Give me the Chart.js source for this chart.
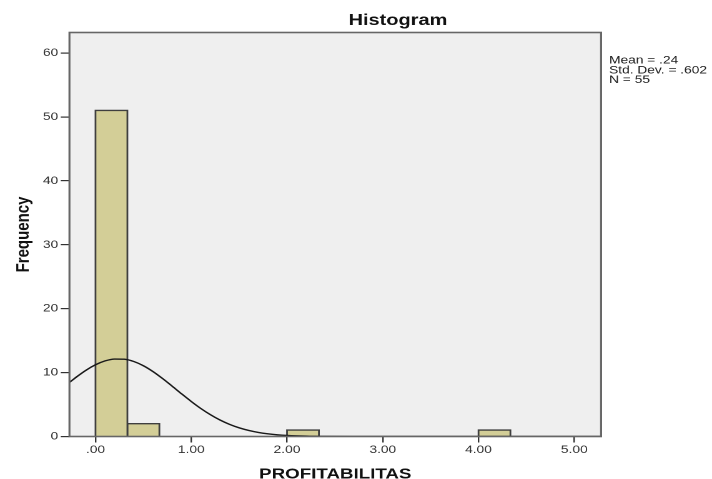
<!DOCTYPE html>
<html>
<head>
<meta charset="utf-8">
<script src="https://cdn.jsdelivr.net/npm/chart.js@4/dist/chart.umd.min.js"></script>
<style>
  html, body { margin: 0; padding: 0; background: #ffffff; overflow: hidden; }
  #wrap { width: 712px; height: 479px; overflow: hidden; }
  #c { display: block; transform: scaleX(1.24912); transform-origin: 0 0; }
</style>
</head>
<body>
<div id="wrap"><canvas id="c" width="570" height="479"></canvas></div>
<script>
// ---- data ----
const chartTitle = "Histogram";
const xAxisTitle = "PROFITABILITAS";
const yAxisTitle = "Frequency";
const statsLines = ["Mean = .24", "Std. Dev. = .602", "N = 55"];

const binStart = [0.000, 0.333, 2.000, 4.000];
const binEnd   = [0.333, 0.667, 2.333, 4.333];
const binCount = [51, 2, 1, 1];

// normal curve
const curveX = [-0.272, -0.2, -0.1, 0.0, 0.1, 0.2, 0.3, 0.4, 0.5, 0.6, 0.7, 0.8, 0.9, 1.0, 1.1, 1.2, 1.3, 1.4, 1.5, 1.6, 1.7, 1.8, 1.9, 2.0, 2.2, 2.4, 2.7, 3.5, 5.28];
const curveY = [8.46, 9.30, 10.36, 11.22, 11.83, 12.12, 12.09, 11.73, 11.07, 10.16, 9.07, 7.88, 6.66, 5.48, 4.38, 3.41, 2.58, 1.90, 1.36, 0.95, 0.64, 0.42, 0.27, 0.17, 0.06, 0.02, 0.0, 0.0, 0.0];

const xMin = -0.272, xMax = 5.28;
const yMin = 0, yMax = 63.2;
const xTickStep = 1, yTickStep = 10;

// ---- build datasets ----
const FONT = "'Liberation Sans', Arial, Helvetica, sans-serif";
const barSets = binCount.map((c, i) => ({
  type: 'line',
  data: [{x: binStart[i], y: 0}, {x: binStart[i], y: c}, {x: binEnd[i], y: c}, {x: binEnd[i], y: 0}],
  fill: 'origin',
  backgroundColor: '#d3ce97',
  borderColor: '#3f3f3f',
  borderWidth: 1.4,
  pointRadius: 0,
  tension: 0,
  order: 1
}));
const curveSet = {
  type: 'line',
  data: curveX.map((x, i) => ({x: x, y: curveY[i]})),
  fill: false,
  borderColor: '#1a1a1a',
  borderWidth: 1.4,
  pointRadius: 0,
  cubicInterpolationMode: 'monotone',
  order: -1
};

const framePlugin = {
  id: 'frame',
  beforeDraw(chart) {
    const {ctx, chartArea: a} = chart;
    ctx.save();
    ctx.fillStyle = '#ffffff';
    ctx.fillRect(0, 0, chart.width, chart.height);
    ctx.fillStyle = '#efefef';
    ctx.fillRect(a.left, a.top, a.right - a.left, a.bottom - a.top);
    ctx.restore();
  },
  afterDatasetsDraw(chart) {
    const {ctx, chartArea: a} = chart;
    ctx.save();
    ctx.strokeStyle = '#666666';
    ctx.lineWidth = 1.6;
    ctx.strokeRect(a.left, a.top, a.right - a.left, a.bottom - a.top);
    ctx.restore();
  },
  afterDraw(chart) {
    const {ctx} = chart;
    ctx.save();
    ctx.fillStyle = '#111';
    ctx.font = "bold 16px " + FONT;
    ctx.textAlign = 'center';
    ctx.textBaseline = 'alphabetic';
    ctx.fillText(chartTitle, 318.6, 25);
    ctx.font = "11px " + FONT;
    ctx.textAlign = 'left';
    ctx.textBaseline = 'middle';
    ctx.fillStyle = '#222';
    statsLines.forEach((t, i) => ctx.fillText(t, 487.6, 60.5 + i * 9.8));
    ctx.restore();
  }
};

new Chart(document.getElementById('c'), {
  type: 'line',
  data: { datasets: [curveSet, ...barSets] },
  plugins: [framePlugin],
  options: {
    responsive: false,
    devicePixelRatio: 2,
    animation: false,
    layout: { padding: { left: 0, right: 88.8, top: 32.5, bottom: 0 } },
    plugins: { legend: { display: false }, tooltip: { enabled: false }, title: { display: false } },
    scales: {
      x: {
        type: 'linear',
        min: xMin, max: xMax,
        afterFit(s) { s.height = 42.5; },
        border: { display: false },
        grid: { drawOnChartArea: false, drawTicks: true, tickLength: 6, tickColor: '#333', lineWidth: 1.2 },
        ticks: {
          stepSize: xTickStep, includeBounds: false, autoSkip: false, maxRotation: 0,
          padding: 1, color: '#333', font: { family: FONT, size: 11 },
          callback: v => (v === 0 ? '.00' : Number(v).toFixed(2))
        },
        title: { display: true, text: xAxisTitle, color: '#111', font: { family: FONT, size: 15, weight: 'bold', lineHeight: 0.6 }, padding: { top: 0, bottom: 0 } }
      },
      y: {
        min: yMin, max: yMax,
        afterFit(s) { s.width = 55.6; },
        border: { display: false },
        grid: { drawOnChartArea: false, drawTicks: true, tickLength: 7, tickColor: '#333', lineWidth: 1.2 },
        ticks: { stepSize: yTickStep, includeBounds: false, padding: 2, color: '#333', font: { family: FONT, size: 11 } },
        title: { display: true, text: yAxisTitle, color: '#111', font: { family: FONT, size: 15, weight: 'bold', lineHeight: 1.2 }, padding: { top: 10, bottom: 0 } }
      }
    }
  }
});
</script>
</body>
</html>
